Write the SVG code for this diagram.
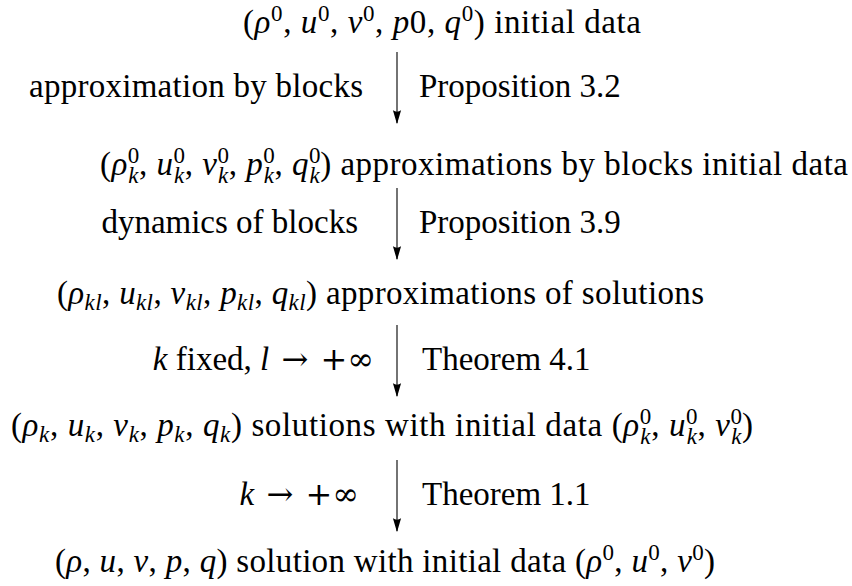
<svg xmlns="http://www.w3.org/2000/svg" width="852" height="586" viewBox="0 0 852 586">
<style>
text{font-family:"Liberation Serif","DejaVu Serif",serif;font-size:33px;fill:#000}
.i{font-style:italic}
.s{font-size:23px}
.sym{font-family:"DejaVu Serif","Liberation Serif",serif;font-size:32px}
.conn line{stroke:#000;stroke-width:1.1;fill:none}
</style>
<defs>
<marker id="ah" markerUnits="userSpaceOnUse" markerWidth="14" markerHeight="10" refX="11" refY="3.5" orient="auto" viewBox="0 0 12 7">
<path d="M0,0 L12,3.5 L0,7 Q2.5,3.5 0,0 Z" fill="#000"/>
</marker>
</defs>
<rect width="852" height="586" fill="#fff"/>

<g id="n1">
<text x="243" y="33" textLength="398">(<tspan class="i">ρ</tspan><tspan class="s" dy="-12">0</tspan><tspan dy="12">, </tspan><tspan class="i">u</tspan><tspan class="s" dy="-12">0</tspan><tspan dy="12">, </tspan><tspan class="i">v</tspan><tspan class="s" dy="-12">0</tspan><tspan dy="12">, </tspan><tspan class="i">p</tspan>0, <tspan class="i">q</tspan><tspan class="s" dy="-12">0</tspan><tspan dy="12">) initial data</tspan></text>
</g>

<g id="n2">
<text x="100" y="175" textLength="748">(<tspan class="i">ρ</tspan><tspan class="s" dy="-12">0</tspan><tspan class="s i" dx="-11.5" dy="20">k</tspan><tspan dy="-8">, </tspan><tspan class="i">u</tspan><tspan class="s" dy="-12">0</tspan><tspan class="s i" dx="-11.5" dy="20">k</tspan><tspan dy="-8">, </tspan><tspan class="i">v</tspan><tspan class="s" dy="-12">0</tspan><tspan class="s i" dx="-11.5" dy="20">k</tspan><tspan dy="-8">, </tspan><tspan class="i">p</tspan><tspan class="s" dy="-12">0</tspan><tspan class="s i" dx="-11.5" dy="20">k</tspan><tspan dy="-8">, </tspan><tspan class="i">q</tspan><tspan class="s" dy="-12">0</tspan><tspan class="s i" dx="-11.5" dy="20">k</tspan><tspan dy="-8">) approximations by blocks initial data</tspan></text>
</g>

<g id="n3">
<text x="57" y="304" textLength="647">(<tspan class="i">ρ</tspan><tspan class="s i" dy="6">kl</tspan><tspan dy="-6">, </tspan><tspan class="i">u</tspan><tspan class="s i" dy="6">kl</tspan><tspan dy="-6">, </tspan><tspan class="i">v</tspan><tspan class="s i" dy="6">kl</tspan><tspan dy="-6">, </tspan><tspan class="i">p</tspan><tspan class="s i" dy="6">kl</tspan><tspan dy="-6">, </tspan><tspan class="i">q</tspan><tspan class="s i" dy="6">kl</tspan><tspan dy="-6">) approximations of solutions</tspan></text>
</g>

<g id="n4">
<text x="11" y="436" textLength="742">(<tspan class="i">ρ</tspan><tspan class="s i" dy="6">k</tspan><tspan dy="-6">, </tspan><tspan class="i">u</tspan><tspan class="s i" dy="6">k</tspan><tspan dy="-6">, </tspan><tspan class="i">v</tspan><tspan class="s i" dy="6">k</tspan><tspan dy="-6">, </tspan><tspan class="i">p</tspan><tspan class="s i" dy="6">k</tspan><tspan dy="-6">, </tspan><tspan class="i">q</tspan><tspan class="s i" dy="6">k</tspan><tspan dy="-6">) solutions with initial data (</tspan><tspan class="i">ρ</tspan><tspan class="s" dy="-12">0</tspan><tspan class="s i" dx="-11.5" dy="20">k</tspan><tspan dy="-8">, </tspan><tspan class="i">u</tspan><tspan class="s" dy="-12">0</tspan><tspan class="s i" dx="-11.5" dy="20">k</tspan><tspan dy="-8">, </tspan><tspan class="i">v</tspan><tspan class="s" dy="-12">0</tspan><tspan class="s i" dx="-11.5" dy="20">k</tspan><tspan dy="-8">)</tspan></text>
</g>

<g id="n5">
<text x="55" y="572" textLength="660">(<tspan class="i">ρ</tspan>, <tspan class="i">u</tspan>, <tspan class="i">v</tspan>, <tspan class="i">p</tspan>, <tspan class="i">q</tspan>) solution with initial data (<tspan class="i">ρ</tspan><tspan class="s" dy="-12">0</tspan><tspan dy="12">, </tspan><tspan class="i">u</tspan><tspan class="s" dy="-12">0</tspan><tspan dy="12">, </tspan><tspan class="i">v</tspan><tspan class="s" dy="-12">0</tspan><tspan dy="12">)</tspan></text>
</g>

<g id="labels">
<text x="363" y="97" text-anchor="end" textLength="334">approximation by blocks</text>
<text x="419" y="97">Proposition 3.2</text>
<text x="358" y="233" text-anchor="end">dynamics of blocks</text>
<text x="419" y="233">Proposition 3.9</text>
<text x="374" y="370" text-anchor="end"><tspan class="i">k</tspan> fixed, <tspan class="i">l</tspan> <tspan class="sym" dx="4">→</tspan> <tspan class="sym" dx="4">+∞</tspan></text>
<text x="422" y="370">Theorem 4.1</text>
<text x="359" y="505" text-anchor="end"><tspan class="i">k</tspan> <tspan class="sym" dx="4">→</tspan> <tspan class="sym" dx="4">+∞</tspan></text>
<text x="422" y="505">Theorem 1.1</text>
</g>

<g id="connectors" class="conn">
<line x1="397" y1="52" x2="397" y2="123" marker-end="url(#ah)"/>
<line x1="397" y1="188" x2="397" y2="259" marker-end="url(#ah)"/>
<line x1="397" y1="325" x2="397" y2="396" marker-end="url(#ah)"/>
<line x1="397" y1="460" x2="397" y2="531" marker-end="url(#ah)"/>
</g>
</svg>
